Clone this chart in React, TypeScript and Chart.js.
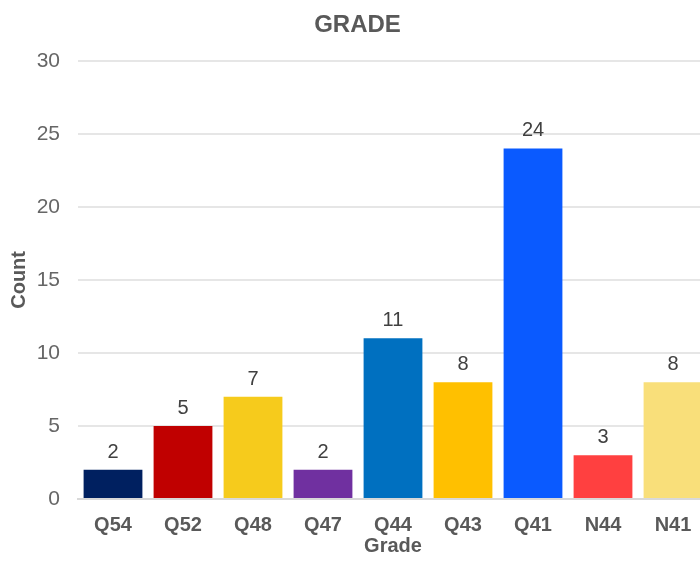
import React, { useEffect, useRef } from "react";
import { Chart, registerables } from "chart.js";

Chart.register(...registerables);

const categories = ["Q54", "Q52", "Q48", "Q47", "Q44", "Q43", "Q41", "N44", "N41"];
const counts = [2, 5, 7, 2, 11, 8, 24, 3, 8];
const barColors = ["#002060", "#C00000", "#F6CB1C", "#7030A0", "#0070C0", "#FFC000", "#0A5AFF", "#FF4040", "#F9DF7A"];
const yTicks = [0, 5, 10, 15, 20, 25, 30];

const FONT = "'Liberation Sans', Arial, Helvetica, sans-serif";

const valueLabels = {
  id: "valueLabels",
  afterDatasetsDraw(chart: any) {
    const ctx = chart.ctx;
    const meta = chart.getDatasetMeta(0);
    ctx.save();
    ctx.font = `20px ${FONT}`;
    ctx.fillStyle = "#404040";
    ctx.textAlign = "center";
    ctx.textBaseline = "alphabetic";
    meta.data.forEach((el: any, i: number) => {
      ctx.fillText(String(counts[i]), el.x, el.y - 12);
    });
    ctx.restore();
  },
};

export default function App() {
  const ref = useRef<HTMLCanvasElement | null>(null);
  useEffect(() => {
    if (!ref.current) return;
    const chart = new Chart(ref.current, {
      type: "bar",
      data: {
        labels: categories,
        datasets: [
          {
            data: counts,
            backgroundColor: barColors,
            categoryPercentage: 1,
            barPercentage: 0.84,
          },
        ],
      },
      options: {
        animation: false,
        responsive: false,
        maintainAspectRatio: false,
        layout: { padding: { left: 7, right: 2, top: 4, bottom: 3 } },
        plugins: {
          legend: { display: false },
          tooltip: { enabled: false },
          title: {
            display: true,
            text: "GRADE",
            color: "#595959",
            font: { family: FONT, size: 24, weight: "bold" },
            padding: { top: 7, bottom: 21 },
          },
        },
        scales: {
          x: {
            grid: { display: false, drawTicks: false },
            border: { display: true, color: "#d9d9d9", width: 2 },
            ticks: {
              color: "#595959",
              font: { family: FONT, size: 20, weight: "bold", lineHeight: 1.0 },
              padding: 16,
              maxRotation: 0,
            },
            title: {
              display: true,
              text: "Grade",
              color: "#595959",
              font: { family: FONT, size: 20, weight: "bold" },
              padding: { top: 0, bottom: 0 },
            },
            afterFit(axis: any) {
              axis.height = 59;
            },
          },
          y: {
            min: 0,
            max: 30,
            afterBuildTicks(axis: any) {
              axis.ticks = yTicks.map((v) => ({ value: v }));
            },
            grid: { color: "#e6e6e6", lineWidth: 2, drawTicks: false },
            border: { display: false },
            ticks: {
              color: "#666666",
              font: { family: FONT, size: 21 },
              padding: 18,
            },
            title: {
              display: true,
              text: "Count",
              color: "#595959",
              font: { family: FONT, size: 20, weight: "bold" },
              padding: { top: 0, bottom: 0 },
            },
            afterFit(axis: any) {
              axis.width = 71;
            },
          },
        },
      },
      plugins: [valueLabels],
    });
    return () => chart.destroy();
  }, []);
  return (
    <div style={{ position: "fixed", left: 0, top: 0, width: 710, height: 561, background: "#fff" }}>
      <canvas ref={ref} width={710} height={561} style={{ display: "block" }} />
    </div>
  );
}
